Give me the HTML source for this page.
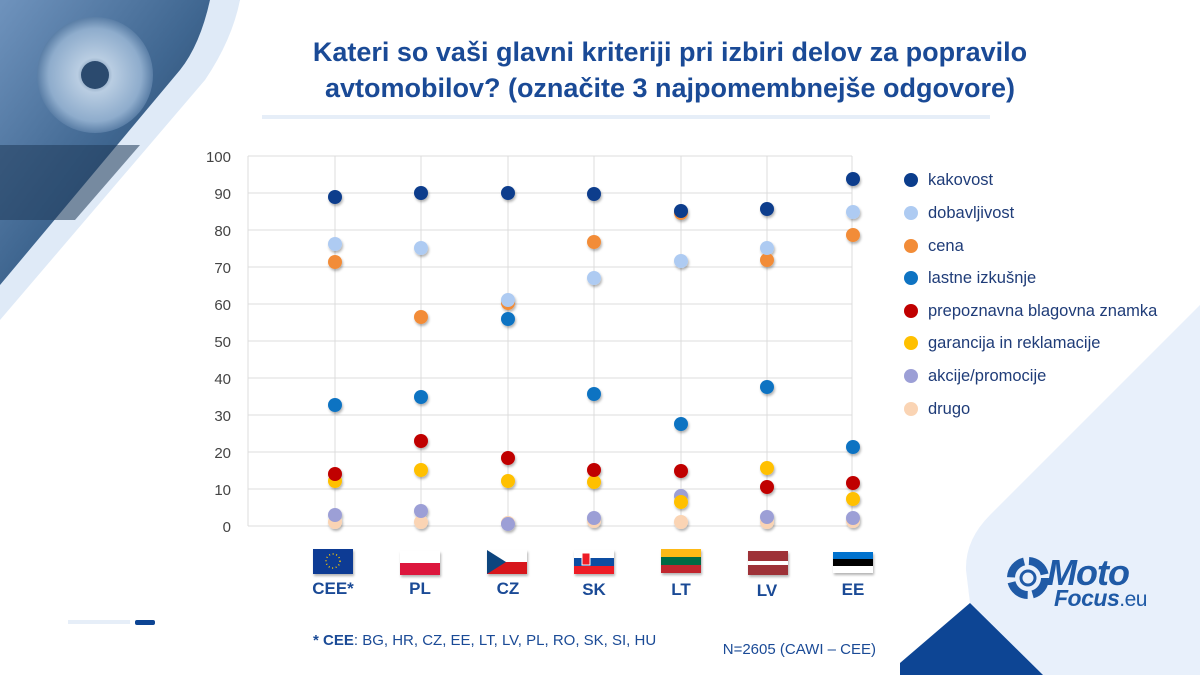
<!DOCTYPE html>
<html><head><meta charset="utf-8"><style>
body{margin:0;width:1200px;height:675px;overflow:hidden;background:#fff;font-family:"Liberation Sans",sans-serif}
</style></head><body>
<svg width="1200" height="675" xmlns="http://www.w3.org/2000/svg" style="position:absolute;left:0;top:0">
<defs>
<linearGradient id="img" x1="0" y1="0" x2="1" y2="1">
<stop offset="0" stop-color="#6f93bd"/><stop offset="0.5" stop-color="#3f6690"/><stop offset="1" stop-color="#1d3552"/>
</linearGradient>
<radialGradient id="gear" cx="0.5" cy="0.5" r="0.5"><stop offset="0" stop-color="#3d5f86"/><stop offset="0.3" stop-color="#b9cde2"/><stop offset="0.8" stop-color="#8eaccc"/><stop offset="1" stop-color="#5a7ea6"/></radialGradient>
<filter id="sh" x="-50%" y="-50%" width="200%" height="200%"><feDropShadow dx="1" dy="2" stdDeviation="1.2" flood-color="#000" flood-opacity="0.3"/></filter>
</defs>
<polygon points="180,0 240,0 215,25 195,25" fill="#0d4594"/>
<path d="M0,0 L235,0 L240,0 Q232,40 205,80 L0,320 Z" fill="#dfeaf7"/>
<path d="M0,0 L210,0 Q200,45 180,70 L0,285 Z" fill="url(#img)"/>
<circle cx="95" cy="75" r="58" fill="url(#gear)"/>
<circle cx="95" cy="75" r="14" fill="#2b4a6e"/>
<path d="M0,145 L140,145 L75,220 L0,220 Z" fill="#1f3a5a" opacity="0.55"/>
<!-- bottom right -->
<path d="M1200,305 L990,515 Q965,540 966,570 L970,603 L1043,675 L1200,675 Z" fill="#e8f0fb"/>
<polygon points="900,663 970,603 1043,675 900,675" fill="#0d4594"/>
<g transform="translate(1028,578)">
<circle cx="0" cy="0" r="17" fill="none" stroke="#1f5aa6" stroke-width="8" stroke-dasharray="22 5"/>
<circle cx="0" cy="0" r="7" fill="none" stroke="#1f5aa6" stroke-width="3"/>
</g>
<text x="1047" y="585" font-size="36" font-weight="bold" font-style="italic" fill="#1f5aa6" letter-spacing="-1">Moto</text>
<text x="1054" y="606" font-size="23" font-weight="bold" font-style="italic" fill="#1f5aa6" letter-spacing="-0.5">Focus<tspan font-weight="normal" font-style="normal" font-size="21">.eu</tspan></text>
<!-- title -->
<text x="670" y="61" font-size="27" font-weight="bold" fill="#1a4a96" text-anchor="middle">Kateri so vaši glavni kriteriji pri izbiri delov za popravilo</text>
<text x="670" y="97" font-size="27" font-weight="bold" fill="#1a4a96" text-anchor="middle">avtomobilov? (označite 3 najpomembnejše odgovore)</text>
<rect x="262" y="115" width="728" height="4" fill="#e6eef8"/>
<g stroke="#dcdcdc" stroke-width="1">
<line x1="248" y1="156" x2="852" y2="156"/><line x1="248" y1="193" x2="852" y2="193"/><line x1="248" y1="230" x2="852" y2="230"/><line x1="248" y1="267" x2="852" y2="267"/><line x1="248" y1="304" x2="852" y2="304"/><line x1="248" y1="341" x2="852" y2="341"/><line x1="248" y1="378" x2="852" y2="378"/><line x1="248" y1="415" x2="852" y2="415"/><line x1="248" y1="452" x2="852" y2="452"/><line x1="248" y1="489" x2="852" y2="489"/><line x1="248" y1="526" x2="852" y2="526"/>
<line x1="248" y1="156" x2="248" y2="526"/><line x1="852" y1="156" x2="852" y2="526"/>
<line x1="335" y1="156" x2="335" y2="526"/><line x1="421" y1="156" x2="421" y2="526"/><line x1="508" y1="156" x2="508" y2="526"/><line x1="594" y1="156" x2="594" y2="526"/><line x1="681" y1="156" x2="681" y2="526"/><line x1="767" y1="156" x2="767" y2="526"/>
</g>
<g font-size="15" fill="#444" text-anchor="end">
<text x="231" y="162">100</text><text x="231" y="199">90</text><text x="231" y="236">80</text><text x="231" y="273">70</text><text x="231" y="310">60</text><text x="231" y="347">50</text><text x="231" y="384">40</text><text x="231" y="421">30</text><text x="231" y="458">20</text><text x="231" y="495">10</text><text x="231" y="532">0</text>
</g>
<g filter="url(#sh)">
<g fill="#fad4b4"><circle cx="335" cy="522" r="7"/><circle cx="421" cy="522" r="7"/><circle cx="508" cy="523" r="7"/><circle cx="594" cy="521" r="7"/><circle cx="681" cy="522" r="7"/><circle cx="767" cy="522" r="7"/><circle cx="853" cy="521" r="7"/></g>
<g fill="#9c9fd6"><circle cx="335" cy="515" r="7"/><circle cx="421" cy="511" r="7"/><circle cx="508" cy="524" r="7"/><circle cx="594" cy="518" r="7"/><circle cx="681" cy="496" r="7"/><circle cx="767" cy="517" r="7"/><circle cx="853" cy="518" r="7"/></g>
<g fill="#ffc000"><circle cx="335" cy="481" r="7"/><circle cx="421" cy="470" r="7"/><circle cx="508" cy="481" r="7"/><circle cx="594" cy="482" r="7"/><circle cx="681" cy="502" r="7"/><circle cx="767" cy="468" r="7"/><circle cx="853" cy="499" r="7"/></g>
<g fill="#c00000"><circle cx="335" cy="474" r="7"/><circle cx="421" cy="441" r="7"/><circle cx="508" cy="458" r="7"/><circle cx="594" cy="470" r="7"/><circle cx="681" cy="471" r="7"/><circle cx="767" cy="487" r="7"/><circle cx="853" cy="483" r="7"/></g>
<g fill="#0e73c2"><circle cx="335" cy="405" r="7"/><circle cx="421" cy="397" r="7"/><circle cx="508" cy="319" r="7"/><circle cx="594" cy="394" r="7"/><circle cx="681" cy="424" r="7"/><circle cx="767" cy="387" r="7"/><circle cx="853" cy="447" r="7"/></g>
<g fill="#f28c38"><circle cx="335" cy="262" r="7"/><circle cx="421" cy="317" r="7"/><circle cx="508" cy="303" r="7"/><circle cx="594" cy="242" r="7"/><circle cx="681" cy="213" r="7"/><circle cx="767" cy="260" r="7"/><circle cx="853" cy="235" r="7"/></g>
<g fill="#aecbf2"><circle cx="335" cy="244" r="7"/><circle cx="421" cy="248" r="7"/><circle cx="508" cy="300" r="7"/><circle cx="594" cy="278" r="7"/><circle cx="681" cy="261" r="7"/><circle cx="767" cy="248" r="7"/><circle cx="853" cy="212" r="7"/></g>
<g fill="#0b3d8c"><circle cx="335" cy="197" r="7"/><circle cx="421" cy="193" r="7"/><circle cx="508" cy="193" r="7"/><circle cx="594" cy="194" r="7"/><circle cx="681" cy="211" r="7"/><circle cx="767" cy="209" r="7"/><circle cx="853" cy="179" r="7"/></g>
</g>
<g font-size="16.5" fill="#1f3c78" filter="none">
<circle cx="911" cy="180" r="7" fill="#0b3d8c"/><text x="928" y="185">kakovost</text>
<circle cx="911" cy="213" r="7" fill="#aecbf2"/><text x="928" y="218">dobavljivost</text>
<circle cx="911" cy="246" r="7" fill="#f28c38"/><text x="928" y="251">cena</text>
<circle cx="911" cy="278" r="7" fill="#0e73c2"/><text x="928" y="283">lastne izkušnje</text>
<circle cx="911" cy="311" r="7" fill="#c00000"/><text x="928" y="316">prepoznavna blagovna znamka</text>
<circle cx="911" cy="343" r="7" fill="#ffc000"/><text x="928" y="348">garancija in reklamacije</text>
<circle cx="911" cy="376" r="7" fill="#9c9fd6"/><text x="928" y="381">akcije/promocije</text>
<circle cx="911" cy="409" r="7" fill="#fad4b4"/><text x="928" y="414">drugo</text>
</g>
<g filter="url(#sh)">
<rect x="313" y="549" width="40" height="25" fill="#0d3a94"/>
<circle cx="333" cy="561" r="7" fill="none" stroke="#ffcc00" stroke-width="1.5" stroke-dasharray="1 2.6"/>
<rect x="400" y="551" width="40" height="12" fill="#fff"/><rect x="400" y="563" width="40" height="12" fill="#dc143c"/>
<rect x="487" y="550" width="40" height="12" fill="#fff"/><rect x="487" y="562" width="40" height="12" fill="#d7141a"/><polygon points="487,550 506,562 487,574" fill="#11457e"/>
<rect x="574" y="550" width="40" height="8" fill="#fff"/><rect x="574" y="558" width="40" height="8" fill="#0b4ea2"/><rect x="574" y="566" width="40" height="8" fill="#ee1c25"/><rect x="582" y="553" width="8" height="12" fill="#ee1c25" stroke="#fff"/>
<rect x="661" y="549" width="40" height="8" fill="#fdb913"/><rect x="661" y="557" width="40" height="8" fill="#006a44"/><rect x="661" y="565" width="40" height="8" fill="#c1272d"/>
<rect x="748" y="551" width="40" height="10" fill="#9e3039"/><rect x="748" y="561" width="40" height="4" fill="#fff"/><rect x="748" y="565" width="40" height="10" fill="#9e3039"/>
<rect x="833" y="552" width="40" height="7" fill="#0072ce"/><rect x="833" y="559" width="40" height="7" fill="#000"/><rect x="833" y="566" width="40" height="7" fill="#fff"/>
</g>
<g font-size="17" font-weight="bold" fill="#1a4a96" text-anchor="middle">
<text x="333" y="594">CEE*</text><text x="420" y="594">PL</text><text x="508" y="594">CZ</text><text x="594" y="595">SK</text><text x="681" y="595">LT</text><text x="767" y="596">LV</text><text x="853" y="595">EE</text>
</g>
<text x="313" y="645" font-size="15" fill="#1a4a96"><tspan font-weight="bold">* CEE</tspan>: BG, HR, CZ, EE, LT, LV, PL, RO, SK, SI, HU</text>
<text x="876" y="654" font-size="15" fill="#1a4a96" text-anchor="end">N=2605 (CAWI – CEE)</text>
<rect x="68" y="620" width="62" height="4" fill="#e6eef8"/><rect x="135" y="620" width="20" height="5" rx="2" fill="#0d4594"/>
</svg>
</body></html>
